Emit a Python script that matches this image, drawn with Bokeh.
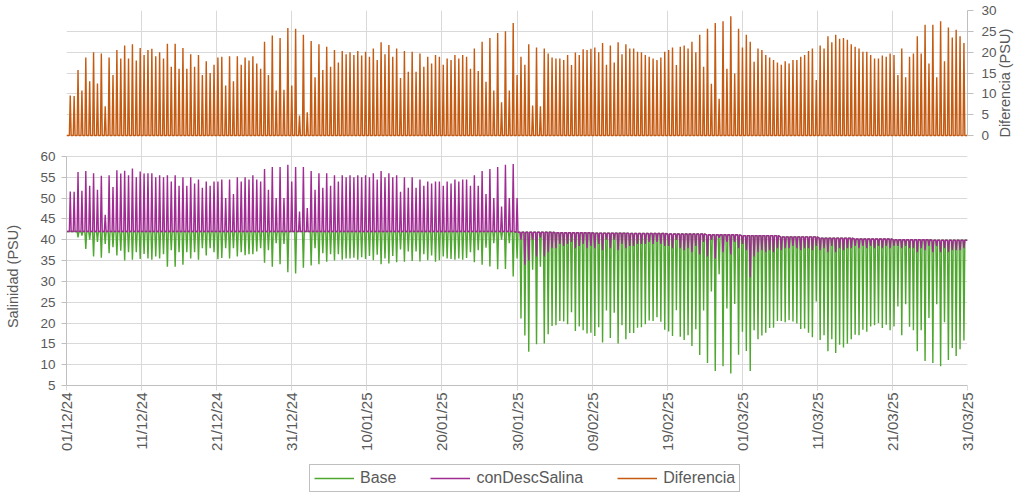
import numpy as np
from bokeh.plotting import figure
from bokeh.layouts import column
from bokeh.models import Range1d, LinearAxis, FixedTicker, Grid, Legend, LegendItem
from bokeh.embed import file_html
from bokeh.resources import INLINE

# ---------------- data ----------------
# x axis: days since 01/12/2024, tick every 10 days
dias_ticks = [0, 10, 20, 30, 40, 50, 60, 70, 80, 90, 100, 110, 120]
etiquetas = ["01/12/24", "11/12/24", "21/12/24", "31/12/24", "10/01/25", "20/01/25",
             "30/01/25", "09/02/25", "19/02/25", "01/03/25", "11/03/25", "21/03/25", "31/03/25"]

# tidal cycles (semidiurnal, 12.42 h), first peak at day 0.5
primer_pico = 0.5
periodo_h = 12.42

# resting salinity level (PSU), one value per 5-day block
nivel_5d = [42, 42, 42, 42, 42, 42, 42, 42, 42, 42, 42, 42,
            41.8, 41.7, 41.6, 41.5, 41.4, 41.2, 41.0, 40.7, 40.4, 40.2, 40.0, 39.9]

# conDescSalina: value reached at each tidal peak (PSU)
con_desc = [
    51.6, 51.5, 56.3, 51.8, 56.5, 53, 56, 52, 55.4, 46, 55.5, 52.7, 56.7, 55.9, 56.6, 55.5, 57.1, 55, 56.4, 55.9,
    56, 56, 55, 55.5, 55, 55.5, 54, 55.5, 53, 55, 53, 55, 53.5, 54.5, 52.5, 54, 53, 54,
    54, 54.5, 50, 54.5, 51, 55, 54, 55, 54.5, 55.5, 54.5, 54, 57, 52, 57.5, 50, 57.5, 50, 58,
    54, 57.5, 46.8, 57.5, 47.6, 56.5, 52, 56, 52.5, 56, 53, 55.5, 54, 55.5, 55, 55.5, 55, 55.5, 55, 55.5,
    55, 56, 54.5, 56.5, 55, 56, 55, 55.5, 51.5, 55, 52.5, 55, 52.5, 54.5, 53, 54, 53.5, 54, 54, 53,
    54, 53.5, 54.5, 54, 54.5, 54.5, 53, 55.5, 53, 56.5, 51, 57, 50, 57.5, 48, 58, 50, 58.2,
    50, 40, 34, 35, 40, 36, 40.5, 36, 37, 38, 38, 39, 38.5, 39, 39.5, 38, 38.5, 39, 38, 38.5,
    38, 39, 37.5, 40, 38, 40, 37.5, 39, 38, 38.5, 38.5, 39, 39, 39, 39.5, 39, 39.5, 39, 38.5, 38.5,
    38, 40, 38, 37.5, 38, 37, 38.5, 36.5, 39.5, 36, 40, 35.5, 40.5, 37, 39.5, 36.5, 39.5, 38, 39, 37.5,
    31, 36, 37, 37.5, 37, 37.5, 37, 38, 37.5, 38, 38, 38.5, 38, 37.5, 38, 38, 37.5, 38.5, 37.5, 38,
    37, 38.5, 37, 38, 37.5, 38, 38, 38.5, 38, 38.5, 38, 38.5, 38, 38.5, 38, 38.5, 38, 38.5, 38.5, 38,
    38.5, 38, 38, 37, 38, 37.5, 38.5, 37, 38.5, 37, 38, 37, 37.5, 37.5, 37.5, 38,
]

# Diferencia (conDescSalina - Base) at each tidal peak (PSU)
diferencia = [
    9.6, 9.5, 15.7, 10.8, 18.7, 13, 20, 12.5, 19.7, 7, 18.7, 14.5, 20.5, 18.5, 21.6, 18.5, 21.9, 18, 21, 19.3,
    20.5, 20.8, 19, 20, 18.5, 22, 16.5, 22, 16, 21, 16, 19.5, 16.5, 19.3, 14.5, 17.8, 15, 17,
    18.7, 18.9, 12, 19, 13, 19, 17, 18.7, 18, 19, 17.3, 16, 22.5, 14.5, 24, 10.8, 23.4, 11, 25.8,
    12, 25.6, 4.8, 24.2, 5.6, 22.7, 14, 21.9, 15.7, 21.3, 16.5, 20.5, 17.5, 20.3, 19.5, 20, 19.3, 20.3, 19.2, 20.1,
    18.9, 20.9, 18.1, 22.4, 19.5, 21.7, 18.9, 20.9, 13.8, 20.3, 15.3, 20.1, 15.3, 19.7, 16.5, 18.9, 17.3, 19.3, 18.9, 17,
    18.5, 18.1, 19.3, 18.5, 19.3, 18.9, 16, 20.9, 15.5, 22.5, 12.9, 23.4, 10.8, 24.6, 8, 25, 10.8, 27,
    14.5, 18.9, 17, 21.9, 7.2, 21.1, 7, 20.9, 19.7, 18.7, 18.5, 18.5, 18.1, 19.3, 16.9, 19.9, 19.3, 20.7, 20.5, 20.8,
    21.1, 20, 22.2, 17, 21.6, 17.5, 22.4, 19.5, 21.9, 20.9, 20.9, 20.1, 20, 19.3, 18.9, 18.5, 18.1, 18.7, 20.1, 20.5,
    21.1, 16.9, 21.3, 21.6, 20.9, 22.5, 20, 24.2, 16.5, 25.6, 12.4, 27, 8.8, 27.4, 16, 28.6, 14.9, 25.6, 21.1, 24.2,
    22.5, 17.7, 20.9, 20.5, 19.3, 18.7, 18.1, 17.5, 17, 17.8, 17.3, 18.1, 18.1, 18.9, 19.3, 20.3, 20.9, 13.3, 21.6, 20.9,
    23.8, 22.4, 24.2, 23.2, 23.4, 23, 21.9, 21.3, 20.9, 20.1, 20.1, 19.3, 18.5, 18.5, 19.2, 18.9, 19.7, 19.3, 14.5, 20.9,
    14, 18.9, 19.7, 23.8, 19.7, 26.6, 17.3, 26.6, 14, 27.4, 17.8, 25.9, 23.5, 25.4, 23.8, 22.2,
]

series_nombres = ["Base", "conDescSalina", "Diferencia"]
colores = {"Base": "#4EA72E", "conDescSalina": "#A02B93", "Diferencia": "#C55A11"}
titulo_izq = "Salinidad (PSU)"
titulo_der = "Diferencia (PSU)"

# ---------------- derived ----------------
con_arr = np.array(con_desc, dtype=float)
dif_arr = np.array(diferencia, dtype=float)
base_arr = con_arr - dif_arr
n = len(con_arr)
t_pico = primer_pico + np.arange(n) * periodo_h / 24.0
nivel = np.array([nivel_5d[min(int(t // 5), len(nivel_5d) - 1)] for t in t_pico])

W = 0.12  # half width of each tidal pulse (days)
T_END = 120.0


def pulsos(picos, niveles, inicio, fin):
    xs = [0.0]
    ys = [inicio]
    for t, pk, lv in zip(t_pico, picos, niveles):
        xs += [t - W, t, t + W]
        ys += [lv, pk, lv]
    xs.append(T_END)
    ys.append(fin)
    return xs, ys


xb, yb = pulsos(base_arr, nivel, nivel_5d[0], nivel_5d[-1])
xc, yc = pulsos(con_arr, nivel, nivel_5d[0], nivel_5d[-1])
xd, yd = pulsos(dif_arr, np.zeros(n), 0.0, 0.0)

# ---------------- layout constants (pixels) ----------------
FONT = "Liberation Sans"
TXT = "#595959"
GRID = "#D9D9D9"
AX = "#BFBFBF"
WIDTH = 1023
F_LEFT, F_RIGHT, F_TOP, F_BOTTOM = 66, 967, 10, 385
MAIN_H = 462
Y_SAL_5, Y_SAL_60 = 385, 156     # pixel rows of 5 and 60 PSU
Y_DIF_0, Y_DIF_30 = 135, 10      # pixel rows of 0 and 30 PSU

k_sal = (Y_SAL_5 - Y_SAL_60) / 55.0
sal_top = 60 + (Y_SAL_60 - F_TOP) / k_sal
sal_bot = 5 - (F_BOTTOM - Y_SAL_5) / k_sal
k_dif = (Y_DIF_0 - Y_DIF_30) / 30.0
dif_top = 30 + (Y_DIF_30 - F_TOP) / k_dif
dif_bot = -(F_BOTTOM - Y_DIF_0) / k_dif

# axis titles are centred on the whole frame by Bokeh; non-breaking spaces move
# each title onto its own panel (left: centred on 5-60, right: starting at 0)
NB = "\u00a0"
TITLE_PX = 14.5
nb_w = 0.278 * TITLE_PX
frame_mid = (F_TOP + F_BOTTOM) / 2
n_izq = int(round(2 * (277 - frame_mid) / nb_w))
n_der = int(round((frame_mid - (Y_DIF_0 + 1)) / nb_w))

p = figure(width=WIDTH, height=MAIN_H, output_backend="svg", toolbar_location=None,
           x_range=Range1d(0, 120), y_range=Range1d(sal_bot, sal_top),
           min_border_left=F_LEFT, min_border_right=WIDTH - F_RIGHT,
           min_border_top=F_TOP, min_border_bottom=MAIN_H - F_BOTTOM)
p.extra_y_ranges = {"dif": Range1d(dif_bot, dif_top)}
p.outline_line_color = None
p.background_fill_color = "white"
p.border_fill_color = "white"

# x axis
xa = p.xaxis[0]
xa.ticker = FixedTicker(ticks=dias_ticks)
xa.major_label_overrides = {d: lab for d, lab in zip(dias_ticks, etiquetas)}
xa.major_label_orientation = np.pi / 2
xa.major_label_text_font = FONT
xa.major_label_text_font_size = "15px"
xa.major_label_text_color = TXT
xa.major_label_standoff = 2
xa.major_tick_out = 5
xa.major_tick_in = 0
xa.minor_tick_out = 0
xa.minor_tick_in = 0
xa.major_tick_line_color = GRID
xa.axis_line_color = AX

# left axis
ya = p.yaxis[0]
ya.ticker = FixedTicker(ticks=list(range(5, 61, 5)))
ya.bounds = (5, 60)
ya.axis_label = titulo_izq + NB * n_izq
ya.axis_label_text_font = FONT
ya.axis_label_text_font_size = f"{TITLE_PX}px"
ya.axis_label_text_font_style = "normal"
ya.axis_label_text_color = TXT
ya.axis_label_standoff = 16
ya.major_label_text_font = FONT
ya.major_label_text_font_size = "13.5px"
ya.major_label_text_color = TXT
ya.major_label_standoff = 6
ya.major_tick_out = 5
ya.major_tick_in = 0
ya.minor_tick_out = 0
ya.minor_tick_in = 0
ya.major_tick_line_color = AX
ya.axis_line_color = AX

# right axis (Diferencia)
yr = LinearAxis(y_range_name="dif", ticker=FixedTicker(ticks=list(range(0, 31, 5))), bounds=(0, 30))
yr.axis_label = NB * n_der + titulo_der
yr.axis_label_text_font = FONT
yr.axis_label_text_font_size = f"{TITLE_PX}px"
yr.axis_label_text_font_style = "normal"
yr.axis_label_text_color = TXT
yr.axis_label_standoff = 5
yr.axis_label_orientation = np.pi / 2
yr.major_label_text_font = FONT
yr.major_label_text_font_size = "13.5px"
yr.major_label_text_color = TXT
yr.major_label_standoff = 8
yr.major_tick_out = 6
yr.major_tick_in = 0
yr.minor_tick_out = 0
yr.minor_tick_in = 0
yr.major_tick_line_color = AX
yr.axis_line_color = AX
p.add_layout(yr, "right")

# grids
p.xgrid.grid_line_color = GRID
p.xgrid.grid_line_width = 1
p.ygrid.grid_line_color = GRID
p.ygrid.grid_line_width = 1
g2 = Grid(dimension=1, ticker=FixedTicker(ticks=list(range(0, 31, 5))), y_range_name="dif",
          grid_line_color=GRID, grid_line_width=1)
p.add_layout(g2)

# series
r_base = p.line(xb, yb, line_color=colores["Base"], line_width=1.4)
r_con = p.line(xc, yc, line_color=colores["conDescSalina"], line_width=1.4)
r_dif = p.line(xd, yd, line_color=colores["Diferencia"], line_width=1.4, y_range_name="dif")

# ---------------- legend (separate strip, frame aligned with the chart) ----------------
LEG_H = 496 - MAIN_H
pl = figure(width=WIDTH, height=LEG_H, output_backend="svg", toolbar_location=None,
            x_axis_type=None, y_axis_type=None,
            x_range=Range1d(0, 1), y_range=Range1d(0, 1),
            min_border_left=0, min_border_right=0, min_border_top=0, min_border_bottom=0)
pl.grid.visible = False
pl.outline_line_color = None
lr = [pl.line([5, 6], [5, 6], line_color=colores[s], line_width=1.4) for s in series_nombres]
legend = Legend(items=[LegendItem(label=s, renderers=[r]) for s, r in zip(series_nombres, lr)],
                orientation="horizontal", location=(309 - F_LEFT, 4))
legend.label_text_font = FONT
legend.label_text_font_size = "16px"
legend.label_text_color = TXT
legend.glyph_width = 40
legend.glyph_height = 18
legend.label_height = 18
legend.label_standoff = 6
legend.spacing = 34
legend.padding = 4
legend.margin = 0
legend.border_line_color = "#7F7F7F"
legend.border_line_width = 1
legend.background_fill_color = "white"
legend.background_fill_alpha = 1
pl.add_layout(legend)

open("out.html", "w").write(file_html(column(p, pl, spacing=0), INLINE))
